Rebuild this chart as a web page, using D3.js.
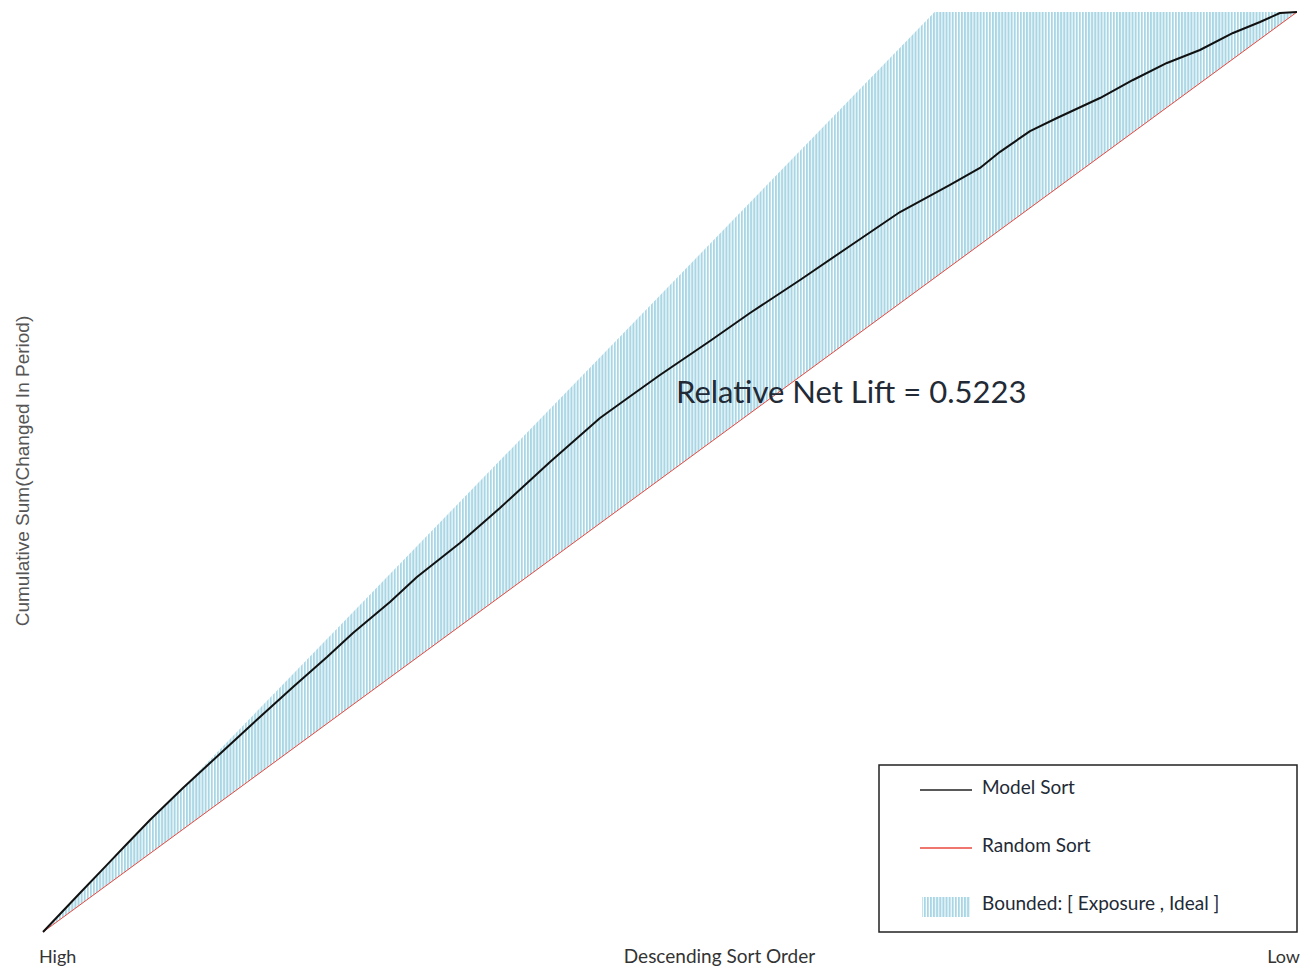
<!DOCTYPE html>
<html>
<head>
<meta charset="utf-8">
<script src="https://cdn.jsdelivr.net/npm/d3@7"></script>
<style>
  html, body { margin: 0; padding: 0; background: #fff; }
  svg { display: block; }
</style>
</head>
<body>
<svg id="chart" width="1304" height="971"></svg>
<script>
// ---- data (x = % of population in descending sort order, y = % of cumulative sum) ----
const modelX = [0, 1.36, 2.95, 5.10, 6.38, 8.53, 11.16, 13.32, 17.30, 19.94, 22.65, 24.72, 27.67, 29.82,
  33.25, 36.44, 40.43, 44.42, 46.41, 49.20, 53.19, 56.38, 60.37, 64.35, 68.34, 72.33, 74.72, 76.32,
  78.71, 80.86, 84.29, 86.92, 89.63, 92.26, 94.90, 97.05, 98.64, 100];
const modelY = [0, 1.96, 4.24, 7.29, 9.13, 12.17, 15.65, 18.37, 23.37, 26.63, 29.89, 32.50, 35.87, 38.59,
  42.28, 46.09, 51.09, 55.87, 57.83, 60.54, 64.24, 67.28, 70.87, 74.57, 78.26, 81.20, 83.05, 84.80,
  87.05, 88.48, 90.65, 92.61, 94.46, 95.87, 97.72, 98.91, 99.89, 100];
const randomX = [0, 100];
const randomY = [0, 100];
const idealX = [0, 71.1, 100];
const idealY = [0, 100, 100];
const tickLabels = ["High", "Low"];
const xTitle = "Descending Sort Order";
const yTitle = "Cumulative Sum(Changed In Period)";
const annotation = "Relative Net Lift = 0.5223";
const legendLabels = ["Model Sort", "Random Sort", "Bounded: [ Exposure , Ideal ]"];

// ---- layout ----
const svg = d3.select("#chart");
const x = d3.scaleLinear().domain([0, 100]).range([43, 1297]);
const y = d3.scaleLinear().domain([0, 100]).range([932, 12]);
const calibri = "Lato, 'Open Sans', sans-serif";

// hatch pattern (vertical light-blue lines)
const defs = svg.append("defs");
const pat = defs.append("pattern")
  .attr("id", "hatch").attr("patternUnits", "userSpaceOnUse")
  .attr("width", 3.1).attr("height", 10);
pat.append("rect").attr("width", 3.1).attr("height", 10).attr("fill", "#fff");
pat.append("rect").attr("x", 0).attr("width", 2.0).attr("height", 10).attr("fill", "#a9d6e5");

// bounded area between random and ideal
const ideal = d3.scaleLinear().domain(idealX).range(idealY);
const rnd = d3.scaleLinear().domain(randomX).range(randomY);
const areaX = Array.from(new Set([...idealX, ...randomX])).sort((a, b) => a - b);
const area = d3.area()
  .x(d => x(d))
  .y0(d => y(rnd(d)))
  .y1(d => y(ideal(d)));
svg.append("path").datum(areaX).attr("d", area).attr("fill", "url(#hatch)");

// random line
const line = d3.line().x(d => x(d[0])).y(d => y(d[1]));
svg.append("path").datum(d3.zip(randomX, randomY)).attr("d", line)
  .attr("fill", "none").attr("stroke", "#e8483f").attr("stroke-width", 1);

// model line
svg.append("path").datum(d3.zip(modelX, modelY)).attr("d", line)
  .attr("fill", "none").attr("stroke", "#111").attr("stroke-width", 2)
  .attr("stroke-linejoin", "round");

// annotation
svg.append("text").attr("x", 676).attr("y", 403)
  .attr("font-family", calibri).attr("font-size", 31).attr("fill", "#222a36")
  .text(annotation);

// x labels
svg.append("text").attr("x", x(0) - 4).attr("y", 963)
  .attr("font-family", calibri).attr("font-size", 18).attr("fill", "#333")
  .text(tickLabels[0]);
svg.append("text").attr("x", x(100) + 3).attr("y", 963).attr("text-anchor", "end")
  .attr("font-family", calibri).attr("font-size", 18).attr("fill", "#333")
  .text(tickLabels[1]);
svg.append("text").attr("x", 719.5).attr("y", 963).attr("text-anchor", "middle")
  .attr("font-family", calibri).attr("font-size", 19).attr("fill", "#333")
  .text(xTitle);

// y title
svg.append("text").attr("transform", "translate(29,471) rotate(-90)")
  .attr("text-anchor", "middle")
  .attr("font-family", "'Liberation Sans', Arial, sans-serif").attr("font-size", 19).attr("fill", "#555")
  .text(yTitle);

// legend
const lg = svg.append("g");
lg.append("rect").attr("x", 879).attr("y", 765).attr("width", 418).attr("height", 167)
  .attr("fill", "#fff").attr("stroke", "#222").attr("stroke-width", 1.5);
lg.append("line").attr("x1", 920).attr("x2", 972).attr("y1", 790).attr("y2", 790)
  .attr("stroke", "#222").attr("stroke-width", 1.5);
lg.append("line").attr("x1", 920).attr("x2", 972).attr("y1", 848).attr("y2", 848)
  .attr("stroke", "#e8483f").attr("stroke-width", 1.5);
lg.append("rect").attr("x", 922).attr("y", 897).attr("width", 48).attr("height", 20)
  .attr("fill", "url(#hatch)");
const ly = [794, 852, 910];
legendLabels.forEach((t, i) => {
  lg.append("text").attr("x", 982).attr("y", ly[i])
    .attr("font-family", calibri).attr("font-size", 19).attr("fill", "#222a36")
    .text(t);
});
</script>
</body>
</html>
